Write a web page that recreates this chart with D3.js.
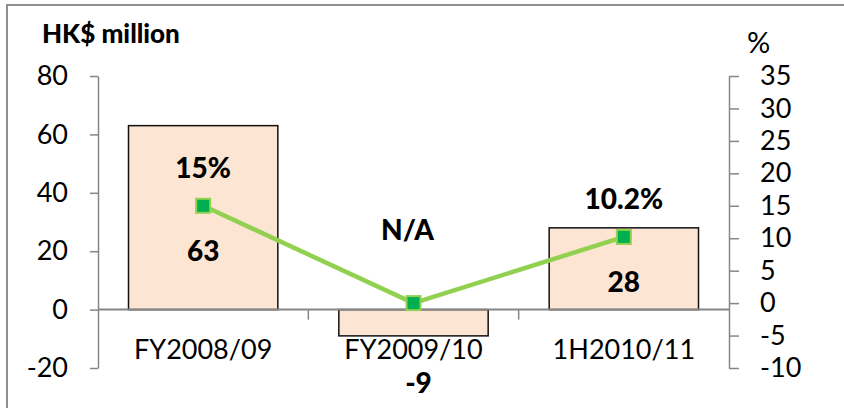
<!DOCTYPE html>
<html>
<head>
<meta charset="utf-8">
<script src="https://cdn.jsdelivr.net/npm/d3@7"></script>
<style>
  html, body { margin: 0; padding: 0; background: #fff; }
  svg { display: block; font-family: Lato, "Open Sans", sans-serif; }
</style>
</head>
<body>
<svg id="chart" width="844" height="408"></svg>
<script>
// Profit (HK$ million) and margin (%) by period
const categories = ["FY2008/09", "FY2009/10", "1H2010/11"];
const profit = [63, -9, 28];
const margin = [15, 0, 10.2];
const marginLabels = ["15%", "N/A", "10.2%"];
const leftTicks = [-20, 0, 20, 40, 60, 80];
const rightTicks = [-10, -5, 0, 5, 10, 15, 20, 25, 30, 35];

const svg = d3.select("#chart");
const W = 844, H = 408;
const plot = { left: 98, right: 729, top: 76, bottom: 368 };

const axisGrey = "#868686";
const barFill = "#FDE5D3";
const lineGreen = "#92D050";
const markerGreen = "#00B050";
const plain = d => String(d);   // hyphen-minus for negatives

svg.append("rect").attr("width", W).attr("height", H).attr("fill", "#fff");

// chart area frame
svg.append("rect")
  .attr("x", 7).attr("y", 5)
  .attr("width", W + 20).attr("height", H + 20)
  .attr("fill", "none").attr("stroke", "#8f8f8f").attr("stroke-width", 2);

const x = d3.scaleBand().domain(categories)
  .range([plot.left, plot.right]).paddingInner(0.29).paddingOuter(0.145);
const yL = d3.scaleLinear().domain([-20, 80]).range([plot.bottom, plot.top]);
const yR = d3.scaleLinear().domain([-10, 35]).range([plot.bottom, plot.top]);
const cx = c => x(c) + x.bandwidth() / 2;

// left axis
const gL = svg.append("g").attr("transform", `translate(${plot.left},0)`)
  .call(d3.axisLeft(yL).tickValues(leftTicks).tickFormat(plain)
    .tickSize(8).tickSizeOuter(0).tickPadding(22));
// right axis
const gR = svg.append("g").attr("transform", `translate(${plot.right},0)`)
  .call(d3.axisRight(yR).tickValues(rightTicks).tickFormat(plain)
    .tickSize(10).tickSizeOuter(0).tickPadding(21));
[gL, gR].forEach(g => {
  g.select(".domain").attr("stroke", axisGrey).attr("stroke-width", 1.5);
  g.selectAll(".tick line").attr("stroke", axisGrey).attr("stroke-width", 1.5);
  g.selectAll(".tick text").attr("fill", "#000").style("font-size", "27px")
    .style("font-family", "Lato, 'Open Sans', sans-serif");
});

// bars
svg.append("g").selectAll("rect").data(categories).join("rect")
  .attr("x", c => x(c))
  .attr("width", x.bandwidth())
  .attr("y", (c, i) => yL(Math.max(0, profit[i])))
  .attr("height", (c, i) => Math.abs(yL(profit[i]) - yL(0)))
  .attr("fill", barFill)
  .attr("stroke", "#111").attr("stroke-width", 1.5);

// category axis along zero
const y0 = yL(0);
svg.append("line").attr("x1", plot.left).attr("x2", plot.right)
  .attr("y1", y0).attr("y2", y0).attr("stroke", axisGrey).attr("stroke-width", 2);
const bounds = categories.slice(1).map(c => x(c) - x.step() * x.paddingInner() / 2);
svg.append("g").selectAll("line").data(bounds).join("line")
  .attr("x1", d => d).attr("x2", d => d)
  .attr("y1", y0).attr("y2", y0 + 10)
  .attr("stroke", axisGrey).attr("stroke-width", 1.5);

const gX = svg.append("g").attr("transform", `translate(0,${y0})`)
  .call(d3.axisBottom(x).tickSize(0).tickPadding(30));
gX.select(".domain").remove();
gX.selectAll(".tick text").attr("fill", "#000").style("font-size", "27px")
  .style("font-family", "Lato, 'Open Sans', sans-serif");

// margin line
const pts = categories.map((c, i) => [cx(c), yR(margin[i])]);
svg.append("path").attr("d", d3.line()(pts))
  .attr("fill", "none").attr("stroke", lineGreen).attr("stroke-width", 4.5)
  .attr("stroke-linejoin", "round");
svg.append("g").selectAll("rect").data(pts).join("rect")
  .attr("x", d => d[0] - 7).attr("y", d => d[1] - 7)
  .attr("width", 14).attr("height", 14)
  .attr("fill", markerGreen).attr("stroke", lineGreen).attr("stroke-width", 2);

// value labels
const bold = sel => sel.attr("text-anchor", "middle").attr("font-weight", 900)
  .style("font-size", "28px").attr("fill", "#000");

svg.append("g").selectAll("text").data(categories).join("text")
  .call(bold)
  .attr("x", (c, i) => cx(c) + (margin[i] === 0 ? -6 : 0))
  .attr("y", (c, i) => margin[i] === 0 ? yR(margin[i]) - 63 : yR(margin[i]) - 28)
  .text((c, i) => marginLabels[i]);

svg.append("g").selectAll("text").data(categories).join("text")
  .call(bold)
  .attr("x", (c, i) => cx(c) + (profit[i] < 0 ? 5 : 0))
  .attr("y", (c, i) => profit[i] < 0 ? yL(profit[i]) + 57 : yR(margin[i]) + 55)
  .text((c, i) => profit[i]);

// axis titles
svg.append("text").attr("x", 42).attr("y", 43)
  .attr("font-weight", 900).style("font-size", "26px").attr("fill", "#000")
  .text("HK$ million");
svg.append("text").attr("x", 747).attr("y", 53)
  .style("font-size", "29px").attr("fill", "#000")
  .text("%");
</script>
</body>
</html>
